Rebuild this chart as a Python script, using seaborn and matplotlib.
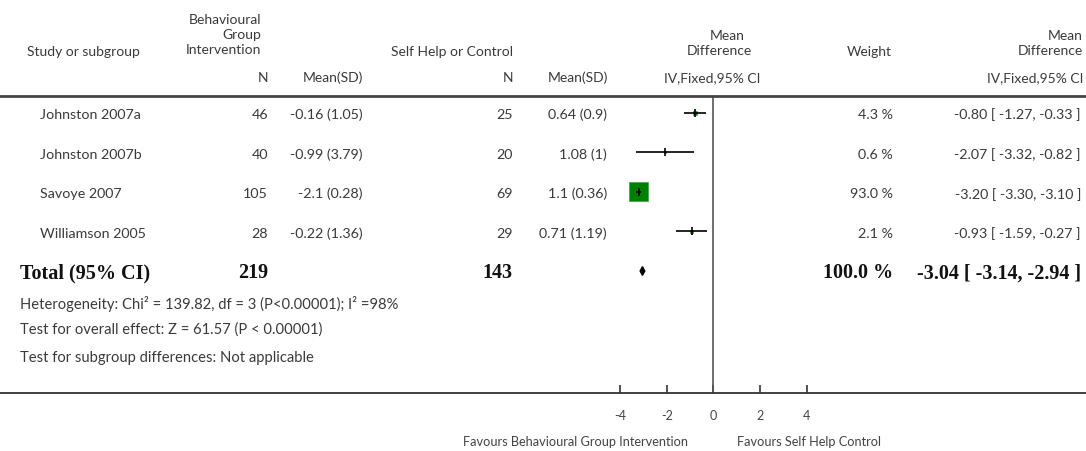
import numpy as np
import pandas as pd
import matplotlib.pyplot as plt
import matplotlib.transforms as mtransforms
import seaborn as sns

# Données de la méta-analyse
studies = ["Johnston 2007a", "Johnston 2007b", "Savoye 2007", "Williamson 2005"]
n_int = [46, 40, 105, 28]
msd_int = ["-0.16 (1.05)", "-0.99 (3.79)", "-2.1 (0.28)", "-0.22 (1.36)"]
n_ctl = [25, 20, 69, 29]
msd_ctl = ["0.64 (0.9)", "1.08 (1)", "1.1 (0.36)", "0.71 (1.19)"]
weights = [4.3, 0.6, 93.0, 2.1]
md = [-0.80, -2.07, -3.20, -0.93]
ci_lo = [-1.27, -3.32, -3.30, -1.59]
ci_hi = [-0.33, -0.82, -3.10, -0.27]

total_n_int = 219
total_n_ctl = 143
total_weight = 100.0
total_md, total_lo, total_hi = -3.04, -3.14, -2.94

heterogeneity = "Heterogeneity: Chi² = 139.82, df = 3 (P<0.00001); I² =98%"
overall = "Test for overall effect: Z = 61.57 (P < 0.00001)"
subgroup = "Test for subgroup differences: Not applicable"

xticks = [-4, -2, 0, 2, 4]
fav_left = "Favours Behavioural Group Intervention"
fav_right = "Favours Self Help Control"

df = pd.DataFrame({"study": studies, "md": md, "lo": ci_lo, "hi": ci_hi, "w": weights})
df["row"] = np.arange(len(df))
total_row = len(df)

sns.set_theme(style="white")
plt.rcParams["font.family"] = ["Lato", "DejaVu Sans"]

W, H = 1086, 451
fig = plt.figure(figsize=(W / 100, H / 100), dpi=100)

# axe du forest plot sur toute la largeur (0 à x=713 px, 23.3 px par unité)
px_unit = 23.3
x0 = 713.3
ax = fig.add_axes([0, (H - 393) / H, 1, (393 - 96) / H])
ax.set_xlim(-x0 / px_unit, (W - x0) / px_unit)
ax.set_ylim(7.08, -0.42)

txt = "#3a3a3a"
serif = ["Liberation Serif", "DejaVu Serif"]

# carrés pondérés
sns.scatterplot(data=df, x="md", y="row", size="w", sizes=(0, 190), size_norm=(0, 93.0),
                marker="s", color="#008000", edgecolor="#4aa84a", linewidth=0.6,
                legend=False, ax=ax, zorder=2)
ax.hlines(df["row"], df["lo"], df["hi"], color="black", lw=1.2, zorder=3)
ax.scatter(df["md"], df["row"], marker="|", s=30, color="black", lw=1.2, zorder=4)

# losange du total
dh = 0.11
ax.fill([total_lo, total_md, total_hi, total_md],
        [total_row, total_row - dh, total_row, total_row + dh], color="black", zorder=4)

ax.axvline(0, color="#555555", lw=1.2, zorder=1)

for s in ["left", "right"]:
    ax.spines[s].set_visible(False)
ax.spines["top"].set_color("#444444")
ax.spines["top"].set_linewidth(2)
ax.spines["bottom"].set_color("#333333")
ax.spines["bottom"].set_linewidth(1.3)
ax.set_xticks(xticks)
ax.set_xticklabels([str(t) for t in xticks])
ax.set_yticks([])
ax.tick_params(axis="x", direction="in", length=6, width=1.2, color="#333333",
               labelsize=9, labelcolor="#444444", pad=12, bottom=True)
ax.set_xlabel("")
ax.set_ylabel("")

# texte des colonnes : x en pixels, y en lignes
tr = mtransforms.blended_transform_factory(fig.transFigure, ax.transData)


def col(xpx, row, s, ha="right", **kw):
    kw.setdefault("fontsize", 10.3)
    kw.setdefault("color", txt)
    ax.text(xpx / W, row + 0.06, s, transform=tr, ha=ha, va="center", **kw)


for i, r in df.iterrows():
    col(40, i, r["study"], ha="left")
    col(268, i, str(n_int[i]))
    col(363, i, msd_int[i])
    col(513, i, str(n_ctl[i]))
    col(607, i, msd_ctl[i])
    col(893, i, f"{weights[i]:.1f} %")
    col(1081, i, f"{md[i]:.2f} [ {ci_lo[i]:.2f}, {ci_hi[i]:.2f} ]")

bold = dict(family=serif, fontweight="bold", fontsize=14.5, color="#111111")
col(20, total_row, "Total (95% CI)", ha="left", **bold)
col(268, total_row, str(total_n_int), **bold)
col(513, total_row, str(total_n_ctl), **bold)
col(893, total_row, f"{total_weight:.1f} %", **bold)
col(1081, total_row, f"{total_md:.2f} [ {total_lo:.2f}, {total_hi:.2f} ]", **bold)

col(20, 4.76, heterogeneity, ha="left", fontsize=10.6)
col(20, 5.42, overall, ha="left", fontsize=10.6)
col(20, 6.14, subgroup, ha="left", fontsize=10.6)


# en-têtes (coordonnées pixel de la figure)
def head(xpx, ypx, s, ha="right", **kw):
    kw.setdefault("fontsize", 10)
    kw.setdefault("color", txt)
    fig.text(xpx / W, 1 - ypx / H, s, ha=ha, va="center", **kw)


head(261, 20, "Behavioural")
head(261, 35, "Group")
head(261, 50, "Intervention")
head(27, 52, "Study or subgroup", ha="left")
head(513, 52, "Self Help or Control")
head(745, 36, "Mean")
head(752, 51, "Difference")
head(869, 52, "Weight", ha="center")
head(1083, 36, "Mean")
head(1083, 51, "Difference")
head(268, 78, "N")
head(363, 78, "Mean(SD)")
head(513, 78, "N")
head(608, 78, "Mean(SD)")
head(760, 78, "IV,Fixed,95% CI")
head(1083, 78, "IV,Fixed,95% CI")

head(688, 442, fav_left, fontsize=9.2, color="#444444")
head(737, 442, fav_right, ha="left", fontsize=9.2, color="#444444")

fig.savefig("out.png", dpi=100)
